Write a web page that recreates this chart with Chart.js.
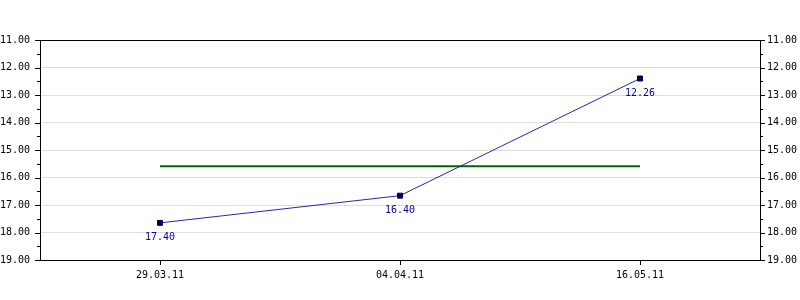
<!DOCTYPE html>
<html>
<head>
<meta charset="utf-8">
<script src="https://cdn.jsdelivr.net/npm/chart.js@4/dist/chart.umd.min.js"></script>
<style>
  body { margin: 0; background: #fff; }
  canvas { display: block; }
</style>
</head>
<body>
<canvas id="chart" width="800" height="300"></canvas>
<script>
// data
var dates = ["29.03.11", "04.04.11", "16.05.11"];
var prices = [17.65, 16.66, 12.40];
var priceLabels = ["17.40", "16.40", "12.26"];
var avgLine = [15.59, 15.59, 15.59];
var yMin = 11;
var yMax = 19;

Chart.defaults.font.family = "'DejaVu Sans Mono', monospace";
Chart.defaults.font.size = 10;
Chart.defaults.color = "#000";

// border box, major and minor tick marks
var frame = {
  id: "frame",
  afterDraw: function (chart) {
    var ctx = chart.ctx;
    var a = chart.chartArea;
    var y = chart.scales.y;
    var x = chart.scales.x;
    ctx.save();
    ctx.strokeStyle = "#000";
    ctx.lineWidth = 1;
    ctx.beginPath();
    for (var v = yMin; v <= yMax; v += 0.5) {
      var py = Math.round(y.getPixelForValue(v)) + 0.5;
      var len = (v % 1 === 0) ? 5 : 3;
      ctx.moveTo(a.left - len, py);
      ctx.lineTo(a.left, py);
      ctx.moveTo(a.right, py);
      ctx.lineTo(a.right + len, py);
    }
    for (var i = 0; i < dates.length; i++) {
      var px = Math.round(x.getPixelForValue(i)) + 0.5;
      ctx.moveTo(px, a.bottom);
      ctx.lineTo(px, a.bottom + 5);
    }
    ctx.stroke();
    ctx.strokeRect(Math.round(a.left) + 0.5, Math.round(a.top) + 0.5,
      Math.round(a.right - a.left), Math.round(a.bottom - a.top));
    ctx.restore();
  }
};

var pointLabels = {
  id: "pointLabels",
  afterDatasetsDraw: function (chart) {
    var ctx = chart.ctx;
    var meta = chart.getDatasetMeta(0);
    ctx.save();
    ctx.fillStyle = "#0000a0";
    ctx.font = "10px 'DejaVu Sans Mono', monospace";
    ctx.textAlign = "center";
    ctx.textBaseline = "alphabetic";
    meta.data.forEach(function (pt, i) {
      ctx.fillText(priceLabels[i], pt.x, pt.y + 17);
    });
    ctx.restore();
  }
};

function fixWidth(w) {
  return function (scale) { scale.width = w; };
}

new Chart(document.getElementById("chart"), {
  type: "line",
  data: {
    labels: dates,
    datasets: [
      {
        data: prices,
        borderColor: "#2828a8",
        borderWidth: 1,
        pointStyle: "rect",
        pointRadius: 3.5,
        pointBackgroundColor: "#000060",
        pointBorderColor: "#000040",
        pointBorderWidth: 1,
        tension: 0,
        yAxisID: "y"
      },
      {
        data: avgLine,
        borderColor: "#006400",
        borderWidth: 2,
        pointRadius: 0,
        tension: 0,
        yAxisID: "y"
      }
    ]
  },
  options: {
    responsive: false,
    animation: false,
    layout: { padding: { top: 40, left: 0, right: 0, bottom: 0 } },
    plugins: {
      legend: { display: false },
      tooltip: { enabled: false }
    },
    scales: {
      x: {
        offset: true,
        grid: { display: false, drawTicks: false },
        border: { display: false },
        ticks: { padding: 9, maxRotation: 0 },
        afterFit: function (scale) { scale.height = 40; }
      },
      y: {
        position: "left",
        reverse: true,
        min: yMin,
        max: yMax,
        grid: {
          drawTicks: false,
          color: function (c) {
            return (c.tick && c.tick.value > yMin && c.tick.value < yMax) ? "#dddddd" : "rgba(0,0,0,0)";
          }
        },
        border: { display: false },
        ticks: {
          stepSize: 1,
          padding: 10,
          callback: function (v) { return v.toFixed(2); }
        },
        afterFit: fixWidth(40)
      },
      y2: {
        position: "right",
        reverse: true,
        min: yMin,
        max: yMax,
        grid: { display: false, drawTicks: false },
        border: { display: false },
        ticks: {
          stepSize: 1,
          padding: 7,
          callback: function (v) { return v.toFixed(2); }
        },
        afterFit: fixWidth(40)
      }
    }
  },
  plugins: [frame, pointLabels]
});
</script>
</body>
</html>
